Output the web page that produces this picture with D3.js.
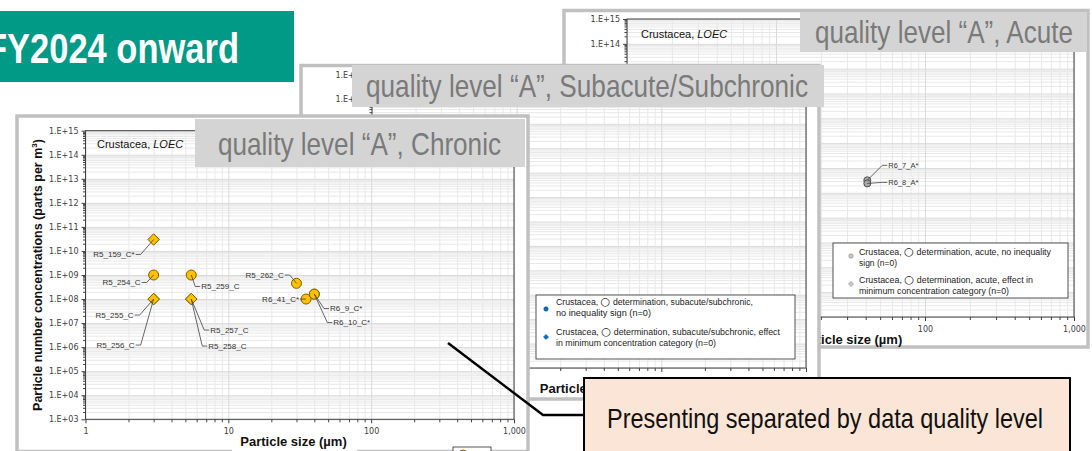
<!DOCTYPE html>
<html>
<head>
<meta charset="utf-8">
<script src="https://cdn.jsdelivr.net/npm/d3@7"></script>
<style>
  body { margin: 0; background: #fff; }
  svg { display: block; font-family: "Liberation Sans", Arial, sans-serif; }
</style>
</head>
<body>
<svg id="chart" width="1092" height="451"></svg>
<script>
// ---- data ----
const xTickValues = [1, 10, 100, 1000];
const xTickLabels = ["1", "10", "100", "1,000"];
const yTickValues = [1e3, 1e4, 1e5, 1e6, 1e7, 1e8, 1e9, 1e10, 1e11, 1e12, 1e13, 1e14, 1e15];
const yTickLabels = ["1.E+03", "1.E+04", "1.E+05", "1.E+06", "1.E+07", "1.E+08", "1.E+09",
                     "1.E+10", "1.E+11", "1.E+12", "1.E+13", "1.E+14", "1.E+15"];

// chronic (LOEC) points
const chronicNames = ["R5_159_C*", "R5_254_C", "R5_255_C", "R5_256_C", "R5_259_C", "R5_257_C",
                      "R5_258_C", "R5_262_C", "R6_41_C*", "R6_9_C*", "R6_10_C*"];
const chronicSize  = [3, 3, 3, 3, 5.5, 5.5, 5.5, 30, 35, 40, 40];
const chronicConc  = [3e10, 1e9, 1e8, 1e8, 1e9, 1e8, 1e8, 4.5e8, 1e8, 1.6e8, 1.6e8];
const chronicShape = ["diamond", "circle", "diamond", "diamond", "circle", "diamond",
                      "diamond", "circle", "circle", "circle", "circle"];

// acute points
const acuteNames = ["R6_7_A*", "R6_8_A*"];
const acuteSize  = [41, 41];
const acuteConc  = [3.2e8, 2.4e8];
const acuteShape = ["circle", "circle"];

// legends
const subLegend = [
  ["Crustacea, ○ determination, subacute/subchronic,", "no inequality sign (n=0)"],
  ["Crustacea, ○ determination, subacute/subchronic, effect", "in minimum concentration category (n=0)"]
];
const acuteLegend = [
  ["Crustacea, ○ determination, acute, no inequality", "sign (n=0)"],
  ["Crustacea, ○ determination, acute, effect in", "minimum concentration category (n=0)"]
];

// ---- layout (pixels) ----
// label offsets from the point: [dx, dy]; dx < 0 -> label sits left of the point
const chronicLabelPos = [[-19, 15], [-13, 7.5], [-20, 16], [-19, 46], [10, 11.5], [19, 31],
                         [17, 47], [-12.7, -8.3], [-7, 0], [15.7, 14.4], [19, 28.4]];
const acuteLabelPos = [[21, -15], [21, -1]];

const narrow = '"Liberation Sans Narrow", "Arial Narrow", "Liberation Sans", Arial, sans-serif';
const svg = d3.select("#chart");

// minor log positions (2..9 within each decade)
function minors(e0, e1) {
  const out = [];
  for (let e = e0; e < e1; e++) for (let m = 2; m <= 9; m++) out.push(m * Math.pow(10, e));
  return out;
}
const xMinor = minors(0, 3);
const yMinor = minors(3, 15);

function marker(sel, shape, r) {
  if (shape === "diamond") {
    sel.append("path").attr("d", `M0,${-r * 1.15}L${r * 1.15},0L0,${r * 1.15}L${-r * 1.15},0Z`);
  } else {
    sel.append("circle").attr("r", r);
  }
}

function drawPanel(cfg) {
  const g = svg.append("g");
  const [fx0, fy0, fx1, fy1] = cfg.frame;
  g.append("rect")
    .attr("x", fx0).attr("y", fy0).attr("width", fx1 - fx0).attr("height", fy1 - fy0)
    .attr("fill", "#fff").attr("stroke", "#c0c0c0").attr("stroke-width", 3.5);

  const [px0, py0, px1, py1] = cfg.plot;
  const x = d3.scaleLog().domain([1, 1000]).range([px0, px1]);
  const y = d3.scaleLog().domain([1e3, 1e15]).range([py1, py0]);

  // gridlines
  g.append("g").attr("transform", `translate(0,${py1})`)
    .call(d3.axisBottom(x).tickValues(xMinor).tickSize(-(py1 - py0)).tickFormat(""))
    .call(a => a.select(".domain").remove())
    .selectAll("line").attr("stroke", "#e8e8e8");
  g.append("g").attr("transform", `translate(${px0},0)`)
    .call(d3.axisLeft(y).tickValues(yMinor).tickSize(-(px1 - px0)).tickFormat(""))
    .call(a => a.select(".domain").remove())
    .selectAll("line").attr("stroke", "#e8e8e8");
  g.append("g").attr("transform", `translate(0,${py1})`)
    .call(d3.axisBottom(x).tickValues(xTickValues).tickSize(-(py1 - py0)).tickFormat(""))
    .call(a => a.select(".domain").remove())
    .selectAll("line").attr("stroke", "#dadada");
  g.append("g").attr("transform", `translate(${px0},0)`)
    .call(d3.axisLeft(y).tickValues(yTickValues).tickSize(-(px1 - px0)).tickFormat(""))
    .call(a => a.select(".domain").remove())
    .selectAll("line").attr("stroke", "#dadada");

  // plot border
  g.append("rect").attr("x", px0).attr("y", py0).attr("width", px1 - px0).attr("height", py1 - py0)
    .attr("fill", "none").attr("stroke", "#404040").attr("stroke-width", 1);

  // axes: minor ticks then labelled majors
  g.append("g").attr("transform", `translate(0,${py1})`)
    .call(d3.axisBottom(x).tickValues(xMinor).tickSize(3).tickFormat(""))
    .call(a => a.select(".domain").remove())
    .selectAll("line").attr("stroke", "#404040");
  g.append("g").attr("transform", `translate(${px0},0)`)
    .call(d3.axisLeft(y).tickValues(yMinor).tickSize(2.5).tickFormat(""))
    .call(a => a.select(".domain").remove())
    .selectAll("line").attr("stroke", "#404040");

  const xa = g.append("g").attr("transform", `translate(0,${py1})`)
    .call(d3.axisBottom(x).tickValues(xTickValues).tickSize(4).tickPadding(5)
      .tickFormat((d, i) => cfg.noXLabels ? "" : xTickLabels[i]));
  xa.select(".domain").remove();
  xa.selectAll("line").attr("stroke", "#404040");
  xa.selectAll("text").attr("font-family", '"DejaVu Sans", sans-serif').attr("font-size", 8)
    .attr("fill", "#404040");

  const ya = g.append("g").attr("transform", `translate(${px0},0)`)
    .call(d3.axisLeft(y).tickValues(yTickValues).tickSize(4).tickPadding(3)
      .tickFormat((d, i) => yTickLabels[i]));
  ya.select(".domain").remove();
  ya.selectAll("line").attr("stroke", "#404040");
  ya.selectAll("text").attr("font-family", '"DejaVu Sans", sans-serif').attr("font-size", 8)
    .attr("fill", "#404040");

  // inset label
  const lo = g.append("text").attr("x", cfg.loec[0]).attr("y", cfg.loec[1])
    .attr("font-size", 11).attr("fill", "#111");
  lo.append("tspan").text("Crustacea, ");
  lo.append("tspan").attr("font-style", "italic").text("LOEC");

  // axis titles
  if (cfg.xlabBg) {
    g.append("rect").attr("x", cfg.xlabBg[0]).attr("y", cfg.xlabBg[1])
      .attr("width", cfg.xlabBg[2]).attr("height", cfg.xlabBg[3]).attr("fill", "#fff");
  }
  g.append("text").attr("x", cfg.xlab[0]).attr("y", cfg.xlab[1])
    .attr("text-anchor", "middle").attr("font-weight", "bold").attr("font-size", 13)
    .attr("fill", "#111").text("Particle size (µm)");
  if (cfg.ylab) {
    const yl = g.append("text")
      .attr("transform", `translate(${cfg.ylab[0]},${cfg.ylab[1]}) rotate(-90)`)
      .attr("text-anchor", "middle").attr("font-weight", "bold").attr("font-size", 12.5)
      .attr("fill", "#111");
    yl.append("tspan").text("Particle number concentrations (parts per m");
    yl.append("tspan").attr("font-size", 8).attr("dy", -5).text("3");
    yl.append("tspan").attr("dy", 5).text(")");
  }

  // data points + labels
  if (cfg.names) {
    const pts = cfg.names.map((n, i) => ({
      name: n, cx: x(cfg.size[i]), cy: y(cfg.conc[i]), shape: cfg.shape[i],
      dx: cfg.labelPos[i][0], dy: cfg.labelPos[i][1]
    }));
    const mk = g.append("g").selectAll("g").data(pts).join("g")
      .attr("transform", d => `translate(${d.cx},${d.cy})`)
      .attr("fill", cfg.fill).attr("stroke", cfg.stroke).attr("stroke-width", 1);
    mk.each(function (d) { marker(d3.select(this), d.shape, cfg.r); });

    const line = d3.line();
    g.append("g").selectAll("path").data(pts).join("path")
      .attr("fill", "none").attr("stroke", "#404040").attr("stroke-width", 0.8)
      .attr("d", d => {
        const lx = d.cx + d.dx, ly = d.cy + d.dy, s = d.dx < 0 ? 1 : -1;
        return line([[lx + s, ly], [lx + s * 6, ly], [d.cx, d.cy]]);
      });
    g.append("g").selectAll("text").data(pts).join("text")
      .attr("x", d => d.cx + d.dx).attr("y", d => d.cy + d.dy).attr("dy", "0.35em")
      .attr("text-anchor", d => d.dx < 0 ? "end" : "start")
      .attr("font-size", cfg.labelSize).attr("fill", "#333").text(d => d.name);
  }

  // legend
  if (cfg.legend) {
    const L = cfg.legend;
    g.append("rect").attr("x", L.box[0]).attr("y", L.box[1])
      .attr("width", L.box[2] - L.box[0]).attr("height", L.box[3] - L.box[1])
      .attr("fill", "#fff").attr("stroke", "#404040").attr("stroke-width", 0.9);
    L.items.forEach((lines, i) => {
      const m = g.append("g").attr("transform", `translate(${L.mx},${L.my[i]})`)
        .attr("fill", L.fill).attr("stroke", L.stroke).attr("stroke-width", 0.6);
      marker(m, i === 0 ? "circle" : "diamond", 2.2);
      lines.forEach((t, j) => {
        const tx = g.append("text").attr("x", L.tx).attr("y", L.ty[i][j])
          .attr("font-size", 8.5).attr("fill", "#222")
          .attr("textLength", L.tw[i][j]).attr("lengthAdjust", "spacingAndGlyphs");
        t.split("○").forEach((part, k) => {
          if (k > 0) tx.append("tspan").attr("font-family", '"DejaVu Sans", sans-serif')
            .attr("font-size", 11).text("○");
          tx.append("tspan").text(part);
        });
      });
    });
  }
  if (cfg.peek) {
    g.append("rect").attr("x", cfg.peek[0]).attr("y", cfg.peek[1]).attr("width", cfg.peek[2])
      .attr("height", 12).attr("fill", "#fff").attr("stroke", "#404040").attr("stroke-width", 0.9);
    g.append("circle").attr("cx", cfg.peek[0] + 10).attr("cy", cfg.peek[1] + 7).attr("r", 4)
      .attr("fill", "#ffc000").attr("stroke", "#7f6000");
  }

  // grey title box
  const T = cfg.title;
  g.append("rect").attr("x", T.box[0]).attr("y", T.box[1])
    .attr("width", T.box[2] - T.box[0]).attr("height", T.box[3] - T.box[1]).attr("fill", "#d4d4d4");
  g.append("text").attr("x", T.x).attr("y", T.y).attr("font-family", narrow).attr("font-size", 32)
    .attr("fill", "#7a7a7a").attr("textLength", T.w).attr("lengthAdjust", "spacingAndGlyphs")
    .text(T.text);
}

// back panel: acute
drawPanel({
  frame: [564, 10.5, 1088, 347], plot: [627, 19, 1074, 317],
  loec: [641, 38], xlab: [849, 344],
  names: acuteNames, size: acuteSize, conc: acuteConc, shape: acuteShape, labelPos: acuteLabelPos,
  fill: "#a8a8a8", stroke: "#505050", r: 3.5, labelSize: 7.5,
  legend: {
    box: [833, 243, 1068, 298], mx: 851, my: [256, 284], fill: "#c8c8c8", stroke: "#8a8a8a",
    items: acuteLegend, tx: 859, ty: [[254.5, 265.5], [283, 294]], tw: [[192, 38], [174, 150]]
  },
  title: { box: [800, 12, 1087, 52], text: "quality level “A”, Acute", x: 815, y: 43, w: 258 }
});

// middle panel: subacute / subchronic
drawPanel({
  frame: [301, 65.5, 819, 399], plot: [372, 75, 806, 368], noXLabels: true,
  loec: [386, 93], xlab: [593, 393],
  legend: {
    box: [536, 295, 795, 359], mx: 546, my: [309, 337], fill: "#0070c0", stroke: "#1f4e79",
    items: subLegend, tx: 556, ty: [[304.5, 316], [334.5, 345.5]], tw: [[197, 95], [224, 160]]
  },
  title: { box: [352, 65, 824, 107], text: "quality level “A”, Subacute/Subchronic", x: 366, y: 96.5, w: 442 }
});

// front panel: chronic
drawPanel({
  frame: [17, 116, 528, 451.5], plot: [85.5, 130.7, 514, 419.3],
  loec: [97, 148], xlab: [293.5, 446], xlabBg: [232, 437, 125, 15], ylab: [41.5, 275],
  names: chronicNames, size: chronicSize, conc: chronicConc, shape: chronicShape,
  labelPos: chronicLabelPos, fill: "#ffc000", stroke: "#7f6000", r: 5, labelSize: 8,
  peek: [453, 447, 38],
  title: { box: [195, 119, 525, 167], text: "quality level “A”, Chronic", x: 218, y: 155, w: 283 }
});

// header tab
svg.append("rect").attr("x", 0).attr("y", 11).attr("width", 294).attr("height", 71).attr("fill", "#009a86");
svg.append("text").attr("x", -14).attr("y", 63).attr("font-family", narrow).attr("font-weight", "bold")
  .attr("font-size", 42).attr("fill", "#fff").attr("textLength", 253)
  .attr("lengthAdjust", "spacingAndGlyphs").text("FY2024 onward");

// callout
svg.append("path").attr("d", d3.line()([[448, 343], [543, 415], [584, 415]]))
  .attr("fill", "none").attr("stroke", "#000").attr("stroke-width", 2.5);
svg.append("rect").attr("x", 584).attr("y", 378).attr("width", 486).attr("height", 90)
  .attr("fill", "#fbe5d6").attr("stroke", "#000").attr("stroke-width", 2);
svg.append("text").attr("x", 607).attr("y", 427.5).attr("font-family", narrow).attr("font-size", 28.5)
  .attr("fill", "#111").attr("textLength", 436).attr("lengthAdjust", "spacingAndGlyphs")
  .text("Presenting separated by data quality level");
</script>
</body>
</html>
